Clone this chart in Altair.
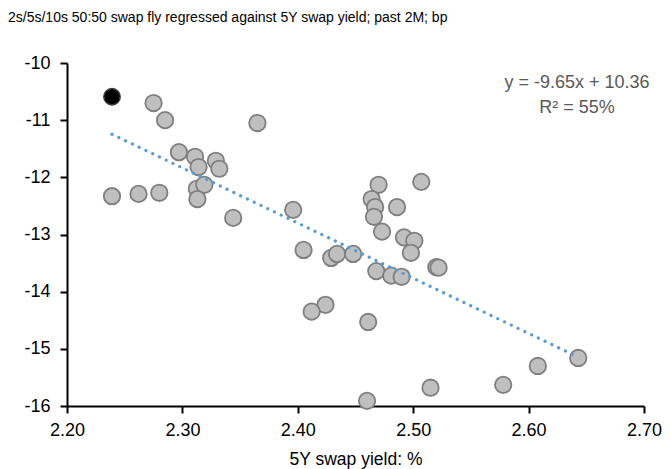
import altair as alt
import pandas as pd

# 5Y swap yield (%) and 2s/5s/10s fly (bp)
yield_5y = [2.275, 2.285, 2.365, 2.297, 2.311, 2.314, 2.329, 2.332,
            2.239, 2.262, 2.280, 2.3125, 2.319, 2.313, 2.344, 2.396,
            2.405, 2.429, 2.434, 2.448, 2.470, 2.507, 2.464, 2.467,
            2.466, 2.486, 2.473, 2.492, 2.501, 2.498, 2.520, 2.522,
            2.468, 2.481, 2.490, 2.424, 2.412, 2.461, 2.515, 2.460,
            2.578, 2.608, 2.643]
fly_bp = [-10.70, -11.00, -11.05, -11.56, -11.64, -11.82, -11.71, -11.85,
          -12.33, -12.29, -12.27, -12.20, -12.13, -12.38, -12.71, -12.57,
          -13.27, -13.41, -13.34, -13.34, -12.13, -12.08, -12.38, -12.52,
          -12.69, -12.52, -12.95, -13.05, -13.11, -13.32, -13.57, -13.58,
          -13.64, -13.72, -13.74, -14.23, -14.35, -14.53, -15.68, -15.91,
          -15.63, -15.30, -15.16]
latest_yield = [2.239]
latest_fly = [-10.59]

slope = -9.65
intercept = 10.36
eq_lines = ["y = -9.65x + 10.36", "R\u00b2 = 55%"]
eq_x = [2.642, 2.642]
eq_y = [-10.35, -10.79]

font = "Liberation Sans"

pts = pd.DataFrame({"x": yield_5y, "y": fly_bp})
latest = pd.DataFrame({"x": latest_yield, "y": latest_fly})
all_x = yield_5y + latest_yield
line_df = pd.DataFrame({"x": [min(all_x), max(all_x)]})
eq_df = pd.DataFrame({"x": eq_x, "y": eq_y, "t": eq_lines})

xscale = alt.Scale(domain=[2.2, 2.7], nice=False, zero=False)
yscale = alt.Scale(domain=[-16, -10], nice=False, zero=False)

xaxis = alt.Axis(title="5Y swap yield: %", values=[2.2, 2.3, 2.4, 2.5, 2.6, 2.7],
                 format=".2f", grid=False, labelFlush=False)
yaxis = alt.Axis(title=None, values=[-16, -15, -14, -13, -12, -11, -10],
                 labelExpr="'' + datum.value", grid=False)

base_pts = alt.Chart(pts).mark_circle(
    size=270, color="#bfbfbf", opacity=1, stroke="#7f7f7f", strokeWidth=1.8
).encode(
    x=alt.X("x:Q", scale=xscale, axis=xaxis),
    y=alt.Y("y:Q", scale=yscale, axis=yaxis),
)

fit = alt.Chart(line_df).transform_calculate(
    y=f"{slope} * datum.x + {intercept}"
).mark_line(
    color="#5b9bd5", strokeWidth=3.2, strokeDash=[0.1, 7.4], strokeCap="round"
).encode(x="x:Q", y="y:Q")

latest_pt = alt.Chart(latest).mark_circle(
    size=270, color="#000000", opacity=1, stroke="#404040", strokeWidth=1.5
).encode(x="x:Q", y="y:Q")

eq = alt.Chart(eq_df).mark_text(
    font=font, fontSize=18, color="#595959", align="center", baseline="middle"
).encode(x="x:Q", y="y:Q", text="t:N")

chart = alt.layer(base_pts, fit, latest_pt, eq).properties(
    width=577, height=343,
    autosize=alt.AutoSizeParams(type="none"),
    padding={"left": 59, "top": 55, "right": 18, "bottom": 63},
    title=alt.TitleParams(
        text="2s/5s/10s 50:50 swap fly regressed against 5Y swap yield; past 2M; bp",
        anchor="start", frame="group", dx=-59, offset=29, font=font, fontSize=14,
        fontWeight="normal", color="#000000",
    ),
).configure_view(stroke=None).configure_axis(
    domainColor="#000000", domainWidth=2, tickColor="#000000", tickWidth=2,
    tickSize=7, labelColor="#000000", labelFont=font, labelFontSize=18,
    titleFont=font, titleFontSize=17.5, titleFontWeight="normal",
    titleColor="#000000",
).configure_axisX(labelPadding=8, titlePadding=11).configure_axisY(labelPadding=10)

chart.save("out.html", embed_options={"renderer": "svg", "actions": False})
